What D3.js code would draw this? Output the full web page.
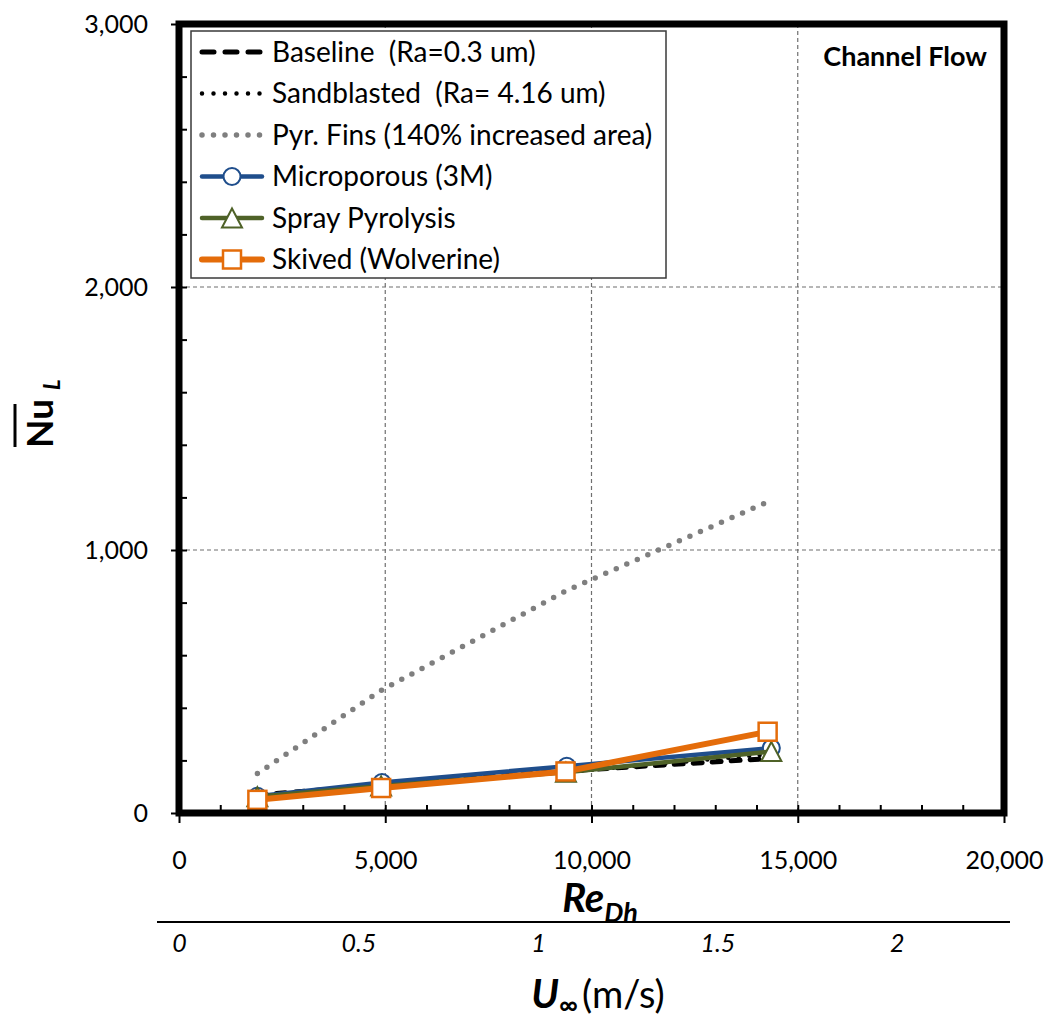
<!DOCTYPE html>
<html>
<head>
<meta charset="utf-8">
<script src="https://cdn.jsdelivr.net/npm/d3@7"></script>
<style>
  body { margin: 0; background: #fff; }
  svg { display: block; }
  text { font-family: Lato, "Open Sans", sans-serif; fill: #000; }
</style>
</head>
<body>
<svg id="chart" width="1057" height="1020"></svg>
<script>
// Reynolds numbers (hydraulic diameter) of the test points
const reynolds = [1900, 4900, 9400, 14300];
const microRe = [1900, 4920, 9400, 14360];
const sprayRe = [1900, 4900, 9380, 14360];
const skivedRe = [1900, 4900, 9370, 14270];

// Average Nusselt number for each surface
const baseline = [68, 106, 160, 207];
const sandblasted = [62, 100, 156, 224];
const pyrFins = [150, 466, 846, 1185];
const microporous = [64, 116, 178, 247];
const sprayPyrolysis = [62, 103, 155, 234];
const skived = [50, 95, 158, 309];

// Axis ticks
const reTicks = [0, 5000, 10000, 15000, 20000];
const nuTicks = [0, 1000, 2000, 3000];
const uTicks = [0, 0.5, 1, 1.5, 2];
const reMax = 20000;
const nuMax = 3000;
// Reynolds number per 1 m/s of free-stream velocity in the channel
const rePerVelocity = 8700;

const legendLabels = [
  "Baseline  (Ra=0.3 um)",
  "Sandblasted  (Ra= 4.16 um)",
  "Pyr. Fins (140% increased area)",
  "Microporous (3M)",
  "Spray Pyrolysis",
  "Skived (Wolverine)"
];

const BLUE = "#1f4e8c", GREEN = "#4f6228", ORANGE = "#e46c0a", GRAY = "#7f7f7f";

const series = [
  { name: legendLabels[0], re: reynolds, nu: baseline, color: "#000", width: 5, dash: "9 10", cap: "round" },
  { name: legendLabels[1], re: reynolds, nu: sandblasted, color: "#000", width: 4.5, dash: "0 10.5", cap: "round" },
  { name: legendLabels[2], re: reynolds, nu: pyrFins, color: GRAY, width: 5.5, dash: "0 11.5", cap: "round" },
  { name: legendLabels[3], re: microRe, nu: microporous, color: BLUE, width: 4.5, marker: "circle" },
  { name: legendLabels[4], re: sprayRe, nu: sprayPyrolysis, color: GREEN, width: 4.5, marker: "triangle" },
  { name: legendLabels[5], re: skivedRe, nu: skived, color: ORANGE, width: 6, marker: "square" }
];

const svg = d3.select("#chart");
const plotLeft = 179, plotRight = 1004, plotTop = 24, plotBottom = 813;

const x = d3.scaleLinear().domain([0, reMax]).range([plotLeft, plotRight]);
const y = d3.scaleLinear().domain([0, nuMax]).range([plotBottom, plotTop]);
const u = d3.scaleLinear().domain([0, reMax / rePerVelocity]).range([plotLeft, plotRight]);

// Dashed grid
const grid = svg.append("g").attr("stroke", "#6f6f6f").attr("stroke-width", 1.2)
  .attr("stroke-dasharray", "4 3");
grid.selectAll("line.v").data(reTicks.slice(1, -1)).join("line").attr("class", "v")
  .attr("x1", d => x(d)).attr("x2", d => x(d)).attr("y1", plotTop).attr("y2", plotBottom);
grid.selectAll("line.h").data(nuTicks.slice(1, -1)).join("line").attr("class", "h")
  .attr("x1", plotLeft).attr("x2", plotRight).attr("y1", d => y(d)).attr("y2", d => y(d));

// Axes
const fmt = d3.format(",");
const xAxis = svg.append("g").attr("transform", `translate(0,${plotBottom})`)
  .call(d3.axisBottom(x).tickValues(reTicks).tickFormat(fmt).tickSize(10).tickPadding(28));
const xMinor = svg.append("g").attr("transform", `translate(0,${plotBottom})`)
  .call(d3.axisBottom(x).ticks(20).tickFormat("").tickSize(-8));
const yAxis = svg.append("g").attr("transform", `translate(${plotLeft},0)`)
  .call(d3.axisLeft(y).tickValues(nuTicks).tickFormat(fmt).tickSize(8).tickPadding(23));
const yMinor = svg.append("g").attr("transform", `translate(${plotLeft},0)`)
  .call(d3.axisLeft(y).ticks(12).tickFormat("").tickSize(-8));
[xAxis, xMinor, yAxis, yMinor].forEach(g => {
  g.select(".domain").remove();
  g.selectAll("line").attr("stroke", "#000").attr("stroke-width", 2);
  g.selectAll("text").attr("font-size", 25).style("font-family", "Lato, sans-serif");
});

// Secondary velocity scale
const uAxisY = 922;
svg.append("line").attr("x1", 157).attr("x2", 1010).attr("y1", uAxisY).attr("y2", uAxisY)
  .attr("stroke", "#000").attr("stroke-width", 2);
const uAxis = svg.append("g").attr("transform", `translate(0,${uAxisY})`)
  .call(d3.axisBottom(u).tickValues(uTicks).tickFormat(d => String(d)).tickSize(0).tickPadding(12));
uAxis.select(".domain").remove();
uAxis.selectAll("text").attr("font-size", 25).attr("font-style", "italic")
  .style("font-family", "Lato, sans-serif");

// Marker shapes
function drawMarker(g, type, color, cx, cy) {
  if (type === "circle") {
    g.append("circle").attr("cx", cx).attr("cy", cy).attr("r", 8.5)
      .attr("fill", "#fff").attr("stroke", color).attr("stroke-width", 2);
  } else if (type === "triangle") {
    const s = 20, h = 19;
    g.append("path")
      .attr("d", `M${cx},${cy - h / 2}L${cx + s / 2},${cy + h / 2}L${cx - s / 2},${cy + h / 2}Z`)
      .attr("fill", "#fff").attr("stroke", color).attr("stroke-width", 2);
  } else if (type === "square") {
    g.append("rect").attr("x", cx - 9).attr("y", cy - 9).attr("width", 18).attr("height", 18)
      .attr("fill", "#fff").attr("stroke", color).attr("stroke-width", 2.5);
  }
}

// Series
const line = d3.line().x(d => x(d[0])).y(d => y(d[1]));
series.forEach(s => {
  const pts = s.re.map((r, i) => [r, s.nu[i]]);
  const g = svg.append("g");
  g.append("path").attr("d", line(pts)).attr("fill", "none")
    .attr("stroke", s.color).attr("stroke-width", s.width)
    .attr("stroke-dasharray", s.dash || null)
    .attr("stroke-linecap", s.cap || "butt").attr("stroke-linejoin", "round");
  if (s.marker) pts.forEach(p => drawMarker(g, s.marker, s.color, x(p[0]), y(p[1])));
});

// Plot frame
svg.append("rect").attr("x", plotLeft).attr("y", plotTop)
  .attr("width", plotRight - plotLeft).attr("height", plotBottom - plotTop)
  .attr("fill", "none").attr("stroke", "#000").attr("stroke-width", 7);

// Legend
const legend = svg.append("g");
legend.append("rect").attr("x", 191).attr("y", 31).attr("width", 475).attr("height", 247)
  .attr("fill", "#fff").attr("stroke", "#3a3a3a").attr("stroke-width", 1.5);
series.forEach((s, i) => {
  const cy = 52 + i * 41.5;
  legend.append("line").attr("x1", 202).attr("x2", 262).attr("y1", cy).attr("y2", cy)
    .attr("stroke", s.color).attr("stroke-width", s.width)
    .attr("stroke-dasharray", s.marker ? null : (i === 0 ? "12 11" : "0 11.5"))
    .attr("stroke-linecap", s.cap || "round");
  if (s.marker) drawMarker(legend, s.marker, s.color, 232, cy);
  legend.append("text").attr("x", 272).attr("y", cy).attr("dy", "0.35em")
    .attr("font-size", 28).style("white-space", "pre").text(s.name);
});

// Panel caption
svg.append("text").attr("x", 987).attr("y", 66).attr("text-anchor", "end")
  .attr("font-size", 27).attr("font-weight", "bold").text("Channel Flow");

// Y axis title: Nu with overbar and subscript L
const yt = svg.append("g").attr("transform", "translate(53,448) rotate(-90)");
const nuText = yt.append("text").attr("x", 0).attr("y", 0).attr("font-size", 37).attr("font-weight", "bold");
nuText.append("tspan").text("Nu");
nuText.append("tspan").attr("dx", 9).attr("dy", 7).attr("font-size", 22).attr("font-style", "italic").text("L");
yt.append("line").attr("x1", 1).attr("x2", 44).attr("y1", -38).attr("y2", -38)
  .attr("stroke", "#000").attr("stroke-width", 3);

// X axis title: Re_Dh
const xt = svg.append("text").attr("x", 600).attr("y", 912).attr("text-anchor", "middle")
  .attr("font-weight", "bold").attr("font-style", "italic");
xt.append("tspan").attr("font-size", 40).text("Re");
xt.append("tspan").attr("font-size", 27).attr("dy", 10).text("Dh");

// Velocity title: U∞ (m/s)
const ut = svg.append("text").attr("x", 598).attr("y", 1008).attr("text-anchor", "middle");
ut.append("tspan").attr("font-size", 40).attr("font-weight", "bold").attr("font-style", "italic").text("U");
ut.append("tspan").attr("font-size", 26).attr("font-weight", "bold").attr("dy", 6).text("∞");
ut.append("tspan").attr("font-size", 38).attr("dy", -6).attr("dx", 4).text("(m/s)");
</script>
</body>
</html>
